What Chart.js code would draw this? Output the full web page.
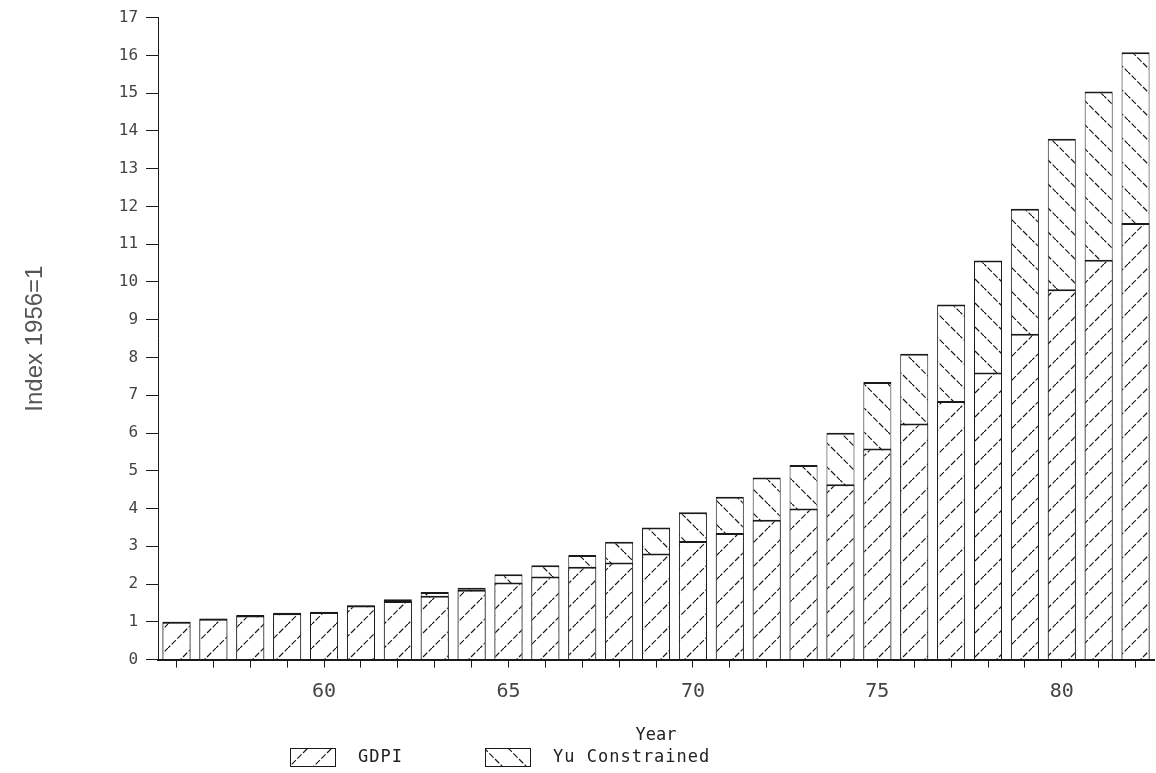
<!DOCTYPE html>
<html>
<head>
<meta charset="utf-8">
<script src="https://cdn.jsdelivr.net/npm/chart.js@4"></script>
<style>
  html, body { margin: 0; padding: 0; background: #fff; }
  #graph { display: block; }
</style>
</head>
<body>
<canvas id="graph" width="1156" height="773"></canvas>
<script>
const years = [1956, 1957, 1958, 1959, 1960, 1961, 1962, 1963, 1964, 1965, 1966, 1967, 1968, 1969,
  1970, 1971, 1972, 1973, 1974, 1975, 1976, 1977, 1978, 1979, 1980, 1981, 1982];
const gdpi = [1.00, 1.08, 1.17, 1.23, 1.26, 1.43, 1.55, 1.69, 1.85, 2.04, 2.20, 2.46, 2.57, 2.81,
  3.14, 3.35, 3.70, 4.00, 4.64, 5.59, 6.25, 6.85, 7.60, 8.63, 9.81, 10.59, 11.56];
const yuConstrained = [1.00, 1.09, 1.18, 1.24, 1.27, 1.44, 1.60, 1.79, 1.90, 2.26, 2.50, 2.77, 3.12, 3.50,
  3.90, 4.31, 4.82, 5.15, 6.01, 7.35, 8.10, 9.40, 10.57, 11.94, 13.79, 15.04, 16.08];
const seriesNames = ["GDPI", "Yu Constrained"];

const ink = "#1a1a1a";
const monoFont = "'DejaVu Sans Mono', monospace";

// hatch fill: dir 1 = "/", dir -1 = "\"
function hatch(dir) {
  const s = 24;
  const c = document.createElement("canvas");
  c.width = s; c.height = s;
  const g = c.getContext("2d");
  g.fillStyle = "#fff";
  g.fillRect(0, 0, s, s);
  g.strokeStyle = ink;
  g.lineWidth = 1.2;
  g.setLineDash([6, 2]);
  g.beginPath();
  if (dir > 0) {
    g.moveTo(-2, s + 2); g.lineTo(s + 2, -2);
  } else {
    g.moveTo(-2, -2); g.lineTo(s + 2, s + 2);
  }
  g.stroke();
  return g.createPattern(c, "repeat");
}

const fwd = hatch(1);
const back = hatch(-1);

// legend drawn under the axis title, like the plotter output
const bottomLegend = {
  id: "bottomLegend",
  afterDraw(chart) {
    const ctx = chart.ctx;
    const items = [
      { x: 290, fill: fwd, text: seriesNames[0] },
      { x: 485, fill: back, text: seriesNames[1] },
    ];
    ctx.save();
    items.forEach(it => {
      ctx.fillStyle = it.fill;
      ctx.fillRect(it.x, 748, 45, 18);
      ctx.strokeStyle = ink;
      ctx.lineWidth = 1;
      ctx.strokeRect(it.x + 0.5, 748.5, 45, 18);
      ctx.fillStyle = "#222";
      ctx.font = "17px " + monoFont;
      ctx.letterSpacing = "1px";
      ctx.textBaseline = "middle";
      ctx.fillText(it.text, it.x + 68, 758);
    });
    ctx.restore();
  }
};

new Chart(document.getElementById("graph"), {
  type: "bar",
  data: {
    labels: years.map(String),
    datasets: [
      {
        label: seriesNames[0],
        data: gdpi,
        backgroundColor: fwd,
        borderColor: ink,
        borderWidth: { top: 2, left: 1, right: 1, bottom: 0 },
        borderSkipped: false,
      },
      {
        label: seriesNames[1],
        data: yuConstrained,
        backgroundColor: back,
        borderColor: ink,
        borderWidth: { top: 2, left: 1, right: 1, bottom: 0 },
        borderSkipped: false,
      },
    ],
  },
  options: {
    responsive: false,
    animation: false,
    layout: { padding: { top: 2, right: 2, left: 20, bottom: 27 } },
    datasets: { bar: { grouped: false, barPercentage: 0.76, categoryPercentage: 1 } },
    plugins: {
      legend: { display: false },
      tooltip: { enabled: false },
    },
    scales: {
      x: {
        grid: { offset: false, drawOnChartArea: false, drawTicks: true, tickLength: 8, color: ink },
        border: { display: true, color: ink, width: 2 },
        ticks: {
          autoSkip: false,
          maxRotation: 0,
          padding: 12,
          color: "#444",
          font: { family: monoFont, size: 20 },
          callback: (v, i) => (years[i] % 5 === 0 ? String(years[i] % 100) : ""),
        },
        title: {
          display: true,
          text: "Year",
          color: "#222",
          font: { family: monoFont, size: 17 },
          padding: { top: 10, bottom: 0 },
        },
      },
      y: {
        min: 0,
        max: 17,
        grid: { drawOnChartArea: false, drawTicks: true, tickLength: 12, color: ink },
        border: { display: true, color: ink, width: 1, dash: [3, 2] },
        ticks: {
          stepSize: 1,
          padding: 8,
          color: "#444",
          font: { family: monoFont, size: 16 },
        },
        title: {
          display: true,
          text: "Index 1956=1",
          color: "#555",
          font: { family: "'Liberation Sans', Arial, sans-serif", size: 24 },
          padding: { top: 1, bottom: 61 },
        },
      },
    },
  },
  plugins: [bottomLegend],
});
</script>
</body>
</html>
